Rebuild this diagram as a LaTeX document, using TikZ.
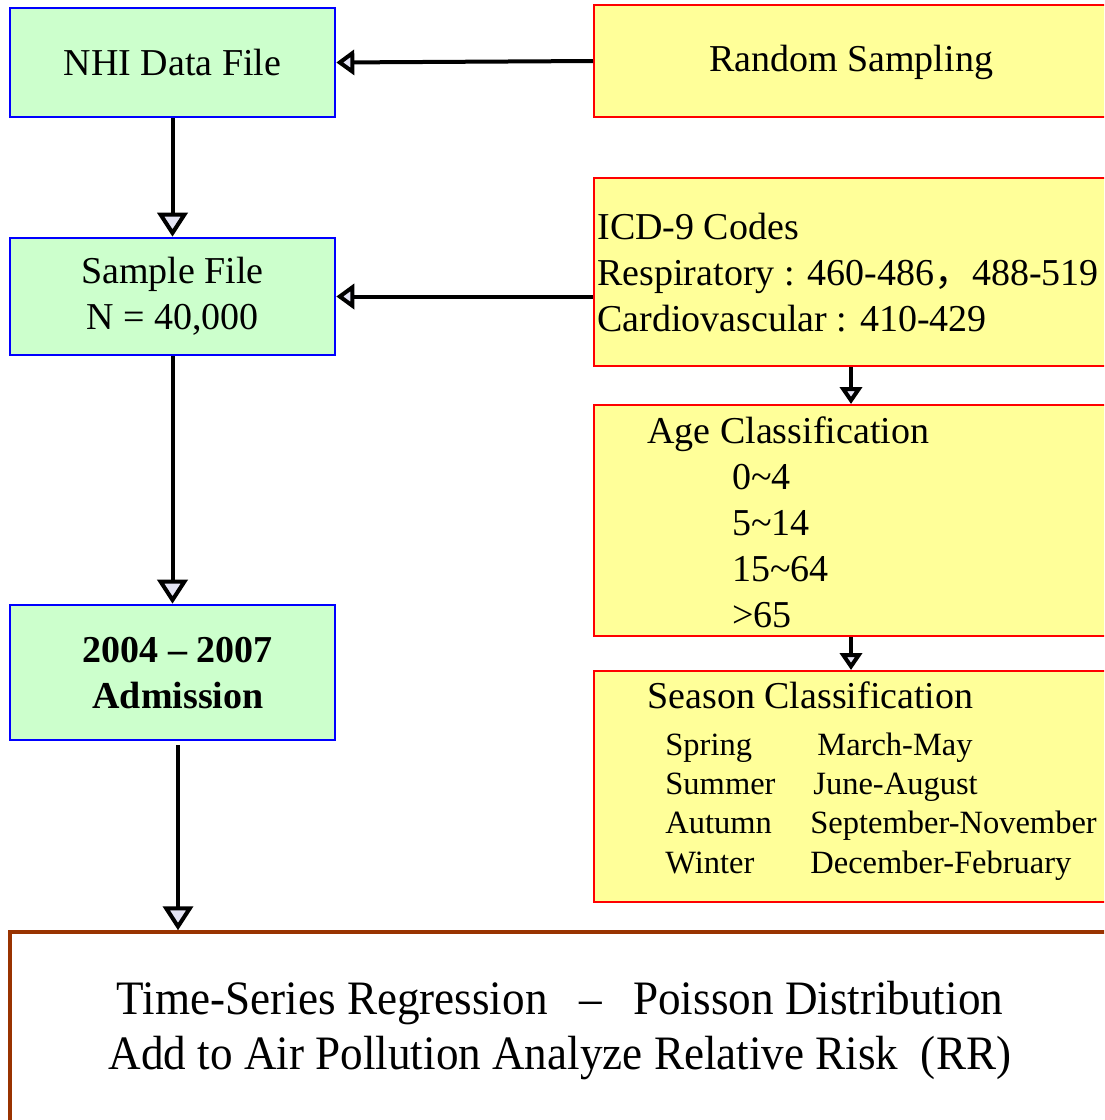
\documentclass[tikz,border=0pt]{standalone}
\usepackage{fontspec}
\usepackage{graphicx}
\setmainfont{Liberation Serif}
\newfontfamily\cjkfont{Noto Sans CJK SC}
\usetikzlibrary{arrows.meta}
\definecolor{srcgreen}{HTML}{CCFFCC}
\definecolor{stepyellow}{HTML}{FFFF99}
\definecolor{tipfill}{HTML}{E4E4F4}
\definecolor{rust}{HTML}{993300}

\begin{document}
\begin{tikzpicture}[x=.5pt,y=-.5pt,
                    every node/.style={font=\fontsize{19}{23}\selectfont},
                    srcbox/.style={draw=blue,fill=srcgreen,line width=1.3pt,inner sep=0pt,
                                   minimum width=162.5pt,align=center},
                    stepbox/.style={draw=red,fill=stepyellow,line width=1pt,inner sep=0pt,
                                    minimum width=257pt},
                    resbox/.style={draw=rust,fill=white,line width=1.75pt,inner sep=0pt},
                    txt/.style={inner sep=0pt},
                    small/.style={inner sep=0pt,font=\fontsize{16.25}{19.5}\selectfont},
                    flow/.style={line width=2pt,-{Triangle[length=12pt,width=15pt,fill=tipfill]}},
                    flowside/.style={line width=2pt,-{Triangle[length=9pt,width=12.5pt,fill=tipfill]}},
                    flowshort/.style={line width=2pt,-{Triangle[length=8.5pt,width=11pt,fill=tipfill]}}]
 \path[use as bounding box,clip] (0,0) rectangle (1104,1120);
 % left column
 \node[srcbox,minimum height=54.5pt] (nhi) at (172.5,62.5) {NHI Data File};
 \node[srcbox,minimum height=58.5pt] (smp) at (172.5,296.5) {Sample File\\N = 40,000};
 \node[srcbox,minimum height=67.5pt] (adm) at (172.5,672.5) {};
 \node[txt,align=center,font=\fontsize{19}{23}\selectfont\bfseries] (admtxt) at (178,673)
      {2004 – 2007\\Admission};
 % right column
 \node[stepbox,minimum height=56pt] (rs) at (851,61) {};
 \node[txt] (rstxt) at (851,62) {Random Sampling};
 \node[stepbox,minimum height=94pt] (icd) at (851,272) {};
 \node[txt,anchor=west,align=left] (icdtxt) at (597,273)
      {ICD-9 Codes\\Respiratory : 460-486{\cjkfont ，}488-519\\Cardiovascular : 410-429};
 \node[stepbox,minimum height=115.5pt] (age) at (851,520.5) {};
 \node[txt,anchor=base west] (agehd) at (647,443.5) {Age Classification};
 \foreach \a [count=\i] in {0\textasciitilde4,5\textasciitilde14,15\textasciitilde64,>65}
   \node[txt,anchor=base west] (age\i) at (732,443.5+46*\i) {\a};
 \node[stepbox,minimum height=115.5pt] (sea) at (851,786.5) {};
 \node[txt,anchor=base west] (seahd) at (647,708.5) {Season Classification};
 \foreach \s/\m/\mx [count=\i] in {Spring/March-May/817,Summer/June-August/813,
                                   Autumn/September-November/810,Winter/December-February/810} {
   \node[small,anchor=base west] (sn\i) at (665,716+39.3*\i) {\s};
   \node[small,anchor=base west] (mo\i) at (\mx,716+39.3*\i) {\m};
 }
 % result
 \node[resbox,minimum width=550pt,minimum height=95pt] (res) at (560,1027) {};
 \node[txt] (restxt) at (560,1031)
      {\scalebox{.94}[1]{\fontsize{24}{27.5}\selectfont
       \begin{tabular}{@{}c@{}}
        Time-Series Regression\hspace{.7em}–\hspace{.7em}Poisson Distribution\\
        Add to Air Pollution Analyze Relative Risk~~(RR)
       \end{tabular}}};
 % arrows
 \draw[flowside] (rs.west) -- (nhi.east);
 \draw[flow] (nhi.south) -- (smp.north);
 \draw[flowside] (smp.east -| icd.west) -- (smp.east);
 \draw[flow] (smp.south) -- (adm.north);
 \draw[flowshort] (icd.south) -- (age.north);
 \draw[flowshort] (age.south) -- (sea.north);
 \coordinate (admout) at (178,745);
 \draw[flow] (admout) -- (admout |- res.north);
\end{tikzpicture}
\end{document}
